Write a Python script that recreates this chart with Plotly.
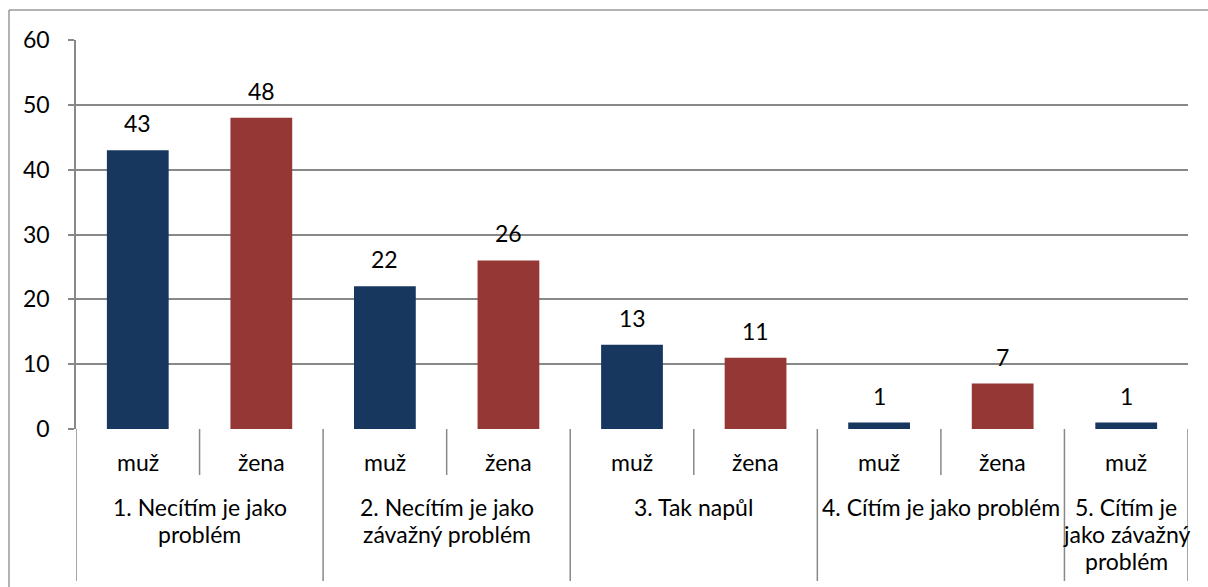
import plotly.graph_objects as go

groups = ["1. Necítím je jako<br>problém", "2. Necítím je jako<br>závažný problém",
          "3. Tak napůl", "4. Cítím je jako problém", "5. Cítím je<br>jako závažný<br>problém"]
muz = [43, 22, 13, 1, 1]
zena = [48, 26, 11, 7, None]
sex_labels = ["muž", "žena"]
y_ticks = [0, 10, 20, 30, 40, 50, 60]

BLUE = "#17375E"
RED = "#953735"
GRID = "#888888"
FONT = "Lato"
LBL = 23
PLOT_H = 389.0

# build slots
xs, vals, cols, slot_sex, group_slots = [], [], [], [], []
for gi, g in enumerate(groups):
    start = len(xs)
    for si, v in enumerate([muz[gi], zena[gi]]):
        if v is None:
            continue
        xs.append(f"{gi}|{sex_labels[si]}")
        vals.append(v)
        cols.append(BLUE if si == 0 else RED)
        slot_sex.append(sex_labels[si])
    group_slots.append((start, len(xs) - 1))
n = len(xs)

fig = go.Figure(go.Bar(
    x=list(range(n)), y=vals, marker=dict(color=cols, line=dict(width=0)), width=0.5,
    hoverinfo="skip",
))

shapes = []
ann = []
# data labels
for i, v in enumerate(vals):
    ann.append(dict(x=i, y=v, xref="x", yref="y", text=str(v), showarrow=False,
                    yanchor="bottom", yshift=11,
                    font=dict(family=FONT, size=LBL, color="#000")))
# sex labels
for i in range(n):
    ann.append(dict(x=i, y=-33 / PLOT_H, xref="x", yref="paper", text=slot_sex[i], showarrow=False,
                    font=dict(family=FONT, size=LBL, color="#000"), yanchor="middle"))
# dividers
bottom_minor = -46 / PLOT_H
bottom_major = -152 / PLOT_H
for b in range(n + 1):
    major = b == 0 or b == n or any(b == s for s, e in group_slots)
    shapes.append(dict(type="line", xref="x", yref="paper", x0=b - 0.5, x1=b - 0.5,
                       y0=0, y1=bottom_major if major else bottom_minor,
                       line=dict(color=GRID, width=1.5)))
# group labels, one annotation per line
for gi, (s, e) in enumerate(group_slots):
    for k, line in enumerate(groups[gi].split("<br>")):
        ann.append(dict(x=(s + e) / 2, y=-(78 + 27 * k) / PLOT_H, xref="x", yref="paper",
                        text=line, showarrow=False,
                        font=dict(family=FONT, size=LBL, color="#000"), yanchor="middle"))
# outer border (top and left edges visible)
bx = (9 - 76) / 1112
by = (429 - 10) / PLOT_H
shapes.append(dict(type="line", xref="paper", yref="paper", x0=bx, x1=1.2, y0=by, y1=by,
                   line=dict(color="#999999", width=1.5), layer="below"))
shapes.append(dict(type="line", xref="paper", yref="paper", x0=bx, x1=bx, y0=by, y1=-0.6,
                   line=dict(color="#999999", width=1.5), layer="below"))

fig.update_layout(
    width=1208, height=587,
    margin=dict(l=76, r=20, t=40, b=158),
    paper_bgcolor="white", plot_bgcolor="white",
    showlegend=False, bargap=0.5,
    shapes=shapes, annotations=ann,
    font=dict(family=FONT, color="#000"),
    xaxis=dict(range=[-0.5, n - 0.5], showticklabels=False, showgrid=False, zeroline=False,
               showline=False, ticks=""),
    yaxis=dict(range=[0, 60], tickvals=y_ticks, showgrid=True, gridcolor=GRID, gridwidth=1.5,
               zeroline=False, showline=True, linecolor=GRID, linewidth=1.5,
               ticks="outside", ticklen=6, tickcolor=GRID, tickwidth=1.5,
               tickfont=dict(family=FONT, size=LBL, color="#000"), ticklabelstandoff=14),
)
fig.write_html("out.html", config={"displayModeBar": False},
               post_script="document.body.style.margin='0';document.body.style.overflow='hidden';")
